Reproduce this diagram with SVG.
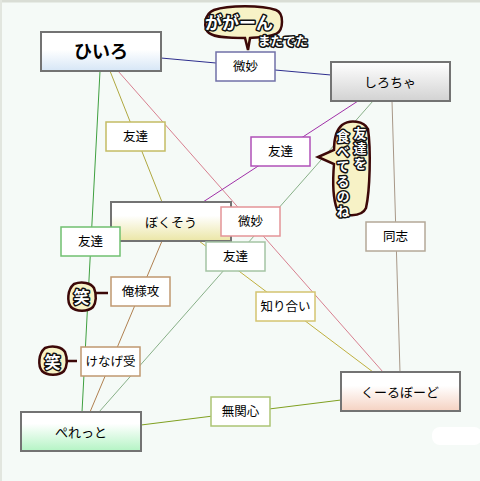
<svg xmlns="http://www.w3.org/2000/svg" width="480" height="481" viewBox="0 0 480 481">
<defs>
<linearGradient id="gBlue" x1="0" y1="0" x2="0" y2="1"><stop offset="0" stop-color="#ffffff"/><stop offset="0.45" stop-color="#ffffff"/><stop offset="1" stop-color="#d6e6f6"/></linearGradient>
<linearGradient id="gGray" x1="0" y1="0" x2="0" y2="1"><stop offset="0" stop-color="#ffffff"/><stop offset="1" stop-color="#d2d2d2"/></linearGradient>
<linearGradient id="gYellow" x1="0" y1="0" x2="0" y2="1"><stop offset="0" stop-color="#ffffff"/><stop offset="0.35" stop-color="#ffffff"/><stop offset="1" stop-color="#ebe6a6"/></linearGradient>
<linearGradient id="gPeach" x1="0" y1="0" x2="0" y2="1"><stop offset="0" stop-color="#ffffff"/><stop offset="0.35" stop-color="#ffffff"/><stop offset="1" stop-color="#f5d2c2"/></linearGradient>
<linearGradient id="gGreen" x1="0" y1="0" x2="0" y2="1"><stop offset="0" stop-color="#ffffff"/><stop offset="0.3" stop-color="#ffffff"/><stop offset="1" stop-color="#b4f4c4"/></linearGradient>
</defs>
<style>
text{font-family:"Noto Sans CJK JP","Noto Sans",sans-serif;fill:#000;}
.node rect{stroke:#737373;stroke-width:2;}
.node text{font-size:13px;text-anchor:middle;}
.lab rect{fill:#ffffff;stroke-width:1.5;}
.lab text{font-size:12.5px;text-anchor:middle;}
.conn line{fill:none;stroke-width:1;}
.bub path{fill:#f7f2c6;stroke:#3c0808;stroke-width:2.5;}
.bt{font-weight:bold;fill:#ffffff;stroke:#111;stroke-width:3;paint-order:stroke;stroke-linejoin:round;}
.vt{writing-mode:vertical-rl;font-size:13px;letter-spacing:2px;}
</style>
<rect x="0" y="0" width="480" height="481" fill="#f5faf7"/>
<rect x="0" y="0" width="480" height="2.5" fill="#d9ddd5"/>
<rect x="0" y="0" width="2" height="481" fill="#e2e6df"/>
<rect x="432" y="427" width="50" height="18" rx="8" fill="#ffffff"/>

<g id="connectors" class="conn">
<line x1="161" y1="58" x2="216" y2="63" stroke="#2e2e8e"/>
<line x1="275" y1="70" x2="331" y2="75" stroke="#2e2e8e"/>
<line x1="100" y1="71" x2="82" y2="412" stroke="#3fa040"/>
<line x1="110" y1="71" x2="162" y2="202" stroke="#b0a840"/>
<line x1="118" y1="71" x2="383" y2="372" stroke="#d88090"/>
<line x1="358" y1="101" x2="203" y2="202" stroke="#a030a8"/>
<line x1="373" y1="101" x2="99" y2="412" stroke="#88b088"/>
<line x1="392" y1="101" x2="400" y2="372" stroke="#a89888"/>
<line x1="162" y1="241" x2="90" y2="412" stroke="#b08050"/>
<line x1="199" y1="241" x2="373" y2="372" stroke="#c0b040"/>
<line x1="141" y1="425" x2="341" y2="400" stroke="#80a020"/>
</g>

<g id="n-hiiro" class="node"><rect x="41" y="32" width="120" height="39" fill="url(#gBlue)"/><text x="101" y="58" style="font-size:18px;font-weight:bold">ひいろ</text></g>
<g id="n-shirocha" class="node"><rect x="331" y="62" width="119" height="39" fill="url(#gGray)"/><text x="390" y="87">しろちゃ</text></g>
<g id="n-bokusou" class="node"><rect x="111" y="202" width="120" height="39" fill="url(#gYellow)"/><text x="171" y="227">ぼくそう</text></g>
<g id="n-coolboard" class="node"><rect x="341" y="372" width="119" height="39" fill="url(#gPeach)"/><text x="400" y="397">くーるぼーど</text></g>
<g id="n-peretto" class="node"><rect x="21" y="412" width="120" height="39" fill="url(#gGreen)"/><text x="81" y="437">ぺれっと</text></g>

<g id="l-bimyou1" class="lab"><rect x="216" y="52" width="59" height="29" stroke="#7070a8"/><text x="245.5" y="71">微妙</text></g>
<g id="l-tomo1" class="lab"><rect x="106" y="122" width="59" height="29" stroke="#c4bc64"/><text x="135.5" y="141">友達</text></g>
<g id="l-tomo2" class="lab"><rect x="251" y="137" width="59" height="29" stroke="#b050b8"/><text x="280.5" y="156">友達</text></g>
<g id="l-bimyou2" class="lab"><rect x="221" y="207" width="59" height="29" stroke="#e49498"/><text x="250.5" y="226">微妙</text></g>
<g id="l-tomo3" class="lab"><rect x="61" y="227" width="59" height="29" stroke="#70c070"/><text x="90.5" y="246">友達</text></g>
<g id="l-tomo4" class="lab"><rect x="206" y="242" width="59" height="29" stroke="#a4c4a4"/><text x="235.5" y="261">友達</text></g>
<g id="l-doushi" class="lab"><rect x="366" y="222" width="59" height="29" stroke="#b4a898"/><text x="395.5" y="241">同志</text></g>
<g id="l-oresama" class="lab"><rect x="111" y="277" width="59" height="29" stroke="#c09870"/><text x="140.5" y="296">俺様攻</text></g>
<g id="l-shiriai" class="lab"><rect x="256" y="292" width="59" height="29" stroke="#d4c470"/><text x="285.5" y="311">知り合い</text></g>
<g id="l-kenage" class="lab"><rect x="81" y="347" width="59" height="29" stroke="#c09870"/><text x="110.5" y="366">けなげ受</text></g>
<g id="l-mukanshin" class="lab"><rect x="211" y="397" width="59" height="29" stroke="#acc474"/><text x="240.5" y="416">無関心</text></g>

<g id="b-gagaan" class="bub">
<path d="M214,10 C228,5 262,5 276,10 C284,13 284,30 276,34 C266,38 256,37 250,38 L248,50 L245,38 C232,38 215,38 209,33 C203,28 204,14 214,10 Z"/>
<text class="bt" x="205" y="29" style="font-size:17px">ががーん</text>
<text class="bt" x="258" y="46" style="font-size:12.5px">またでた</text>
</g>
<g id="b-taberu" class="bub">
<path d="M342,125 C350,119 364,121 368,129 C371,150 370,190 366,208 C362,217 342,218 337,209 C332,196 333,176 334,164 L318,157 L334,150 C334,140 336,130 342,125 Z"/>
<text class="bt vt" x="360" y="127">友達を</text>
<text class="bt vt" x="343" y="130">食べてるのね</text>
</g>
<g id="b-warai1" class="bub">
<path d="M74,284 C82,281 91,283 94,288 C97,295 96,303 93,307 C88,312 76,312 71,307 C67,302 67,290 74,284 Z M95,293 L108,293"/>
<text class="bt" x="81.5" y="303" style="font-size:16px;text-anchor:middle">笑</text>
</g>
<g id="b-warai2" class="bub">
<path d="M45,348 C53,345 62,347 65,352 C68,359 67,367 64,371 C59,376 47,376 42,371 C38,366 38,354 45,348 Z M66,361 L77,361"/>
<text class="bt" x="52.5" y="368" style="font-size:16px;text-anchor:middle">笑</text>
</g>
</svg>
